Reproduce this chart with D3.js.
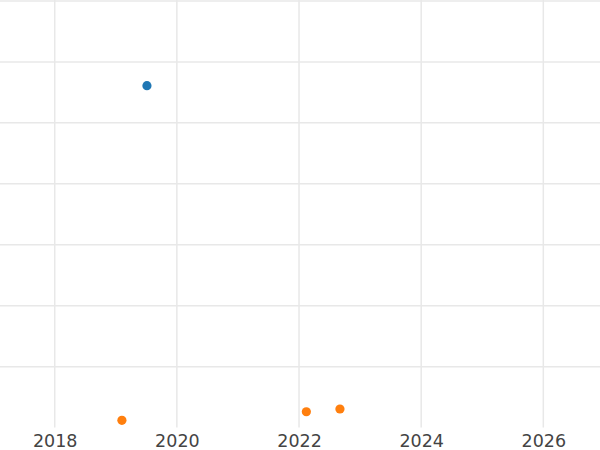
<!DOCTYPE html>
<html>
<head>
<meta charset="utf-8">
<script src="https://cdn.jsdelivr.net/npm/d3@7"></script>
<style>
  html, body { margin: 0; padding: 0; background: #fff; }
  svg { display: block; }
</style>
</head>
<body>
<svg id="chart" width="600" height="450"></svg>
<script>
// ---- data ----
const blueX = [2019.51];
const blueY = [56.1];
const orangeX = [2019.10, 2022.12, 2022.67];
const orangeY = [1.2, 2.6, 3.05];
const xTicks = [2018, 2020, 2022, 2024, 2026];
const yTicks = [10, 20, 30, 40, 50, 60, 70];
const seriesColors = ["#1f77b4", "#ff7f0e"];

// ---- layout ----
const W = 600, H = 450;
const margin = { top: 0, right: 0, bottom: 22.4, left: 0 };
const svg = d3.select("#chart");

const x = d3.scaleLinear()
  .domain([2017.104, 2026.928])
  .range([margin.left, W - margin.right]);
const y = d3.scaleLinear()
  .domain([0, 70.16])
  .range([H - margin.bottom, margin.top]);

const plotBottom = H - margin.bottom;

// gridlines
const grid = svg.append("g").attr("class", "grid");
grid.selectAll("line.v").data(xTicks).join("line")
  .attr("class", "v")
  .attr("x1", d => x(d)).attr("x2", d => x(d))
  .attr("y1", margin.top).attr("y2", plotBottom)
  .attr("stroke", "#e8e8e8").attr("stroke-width", 1.5);
grid.selectAll("line.h").data(yTicks).join("line")
  .attr("class", "h")
  .attr("x1", margin.left).attr("x2", W - margin.right)
  .attr("y1", d => y(d)).attr("y2", d => y(d))
  .attr("stroke", "#e8e8e8").attr("stroke-width", 1.5);

// x axis
const xAxis = d3.axisBottom(x).tickValues(xTicks).tickFormat(d3.format("d")).tickSize(0).tickPadding(7);
const gx = svg.append("g")
  .attr("transform", `translate(0,${plotBottom})`)
  .call(xAxis);
gx.select(".domain").remove();
gx.selectAll("text")
  .attr("fill", "#444")
  .style("font-family", "DejaVu Sans, sans-serif")
  .style("font-size", "17.5px");

// points
const blue = blueX.map((d, i) => ({ x: d, y: blueY[i] }));
const orange = orangeX.map((d, i) => ({ x: d, y: orangeY[i] }));

svg.append("g").selectAll("circle").data(blue).join("circle")
  .attr("cx", d => x(d.x)).attr("cy", d => y(d.y))
  .attr("r", 4.6).attr("fill", seriesColors[0]);
svg.append("g").selectAll("circle").data(orange).join("circle")
  .attr("cx", d => x(d.x)).attr("cy", d => y(d.y))
  .attr("r", 4.6).attr("fill", seriesColors[1]);
</script>
</body>
</html>
